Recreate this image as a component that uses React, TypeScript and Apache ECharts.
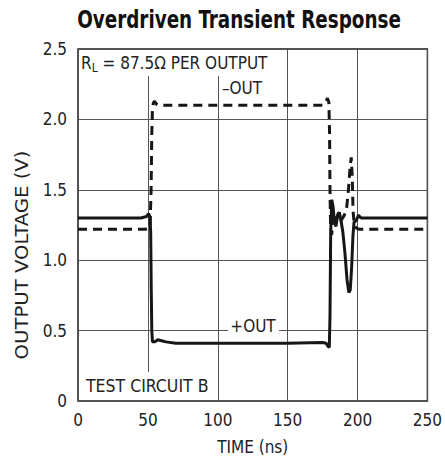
import React, { useEffect, useRef } from "react";
import * as echarts from "echarts";

const xTicks = [0, 50, 100, 150, 200, 250];
const yTicks = [0, 0.5, 1.0, 1.5, 2.0, 2.5];

// +OUT (solid): [time ns, volts]
const plusOut: [number, number][] = [
  [0, 1.3], [45, 1.3], [49, 1.31], [50.5, 1.33], [51.5, 1.31], [52, 1.2], [52.4, 0.8], [52.8, 0.5],
  [53.3, 0.42], [55, 0.42], [57, 0.435], [59, 0.43], [63, 0.42], [70, 0.41], [100, 0.41],
  [150, 0.41], [175, 0.415], [177.5, 0.41], [178.8, 0.39], [179.8, 0.38], [180.3, 0.6],
  [180.8, 1.2], [181.6, 1.43], [182.5, 1.38], [183.5, 1.27], [184.6, 1.24], [185.7, 1.32],
  [187, 1.34], [188.2, 1.28], [189.5, 1.2], [191, 1.05], [192.5, 0.86], [193.8, 0.77],
  [194.8, 0.79], [195.8, 0.95], [196.7, 1.17], [197.5, 1.27], [199, 1.28], [200.7, 1.32],
  [202.5, 1.3], [210, 1.3], [250, 1.3],
];

// -OUT (dashed): [time ns, volts]
const minusOut: [number, number][] = [
  [0, 1.22], [48, 1.22], [51.5, 1.23], [52.3, 1.5], [52.8, 1.9], [53.2, 2.05], [53.8, 2.11],
  [54.6, 2.13], [56, 2.11], [58, 2.1], [100, 2.1], [150, 2.1], [175, 2.1], [177, 2.12],
  [178.5, 2.15], [179.5, 2.12], [180, 1.9], [180.3, 1.5], [180.7, 1.25], [181.5, 1.18],
  [182.5, 1.28], [183.5, 1.31], [185, 1.28], [186.5, 1.34], [188, 1.28], [190, 1.31],
  [192, 1.35], [193.5, 1.5], [194.6, 1.65], [195.5, 1.73], [196.2, 1.6], [196.8, 1.35],
  [197.6, 1.26], [199, 1.23], [201, 1.22], [250, 1.22],
];

const FONT = "'DejaVu Sans Condensed', 'Liberation Sans', sans-serif";

export default function App() {
  const ref = useRef<HTMLDivElement>(null);
  useEffect(() => {
    if (!ref.current) return;
    const chart = echarts.init(ref.current, undefined, { renderer: "svg" });
    const txt = "#222";
    chart.setOption({
      animation: false,
      grid: {
        left: 78, right: 15, top: 49, bottom: 60,
        show: true, borderColor: "#1a1a1a", borderWidth: 1.5, backgroundColor: "#fff",
      },
      xAxis: {
        type: "value", min: xTicks[0], max: xTicks[xTicks.length - 1], interval: 50,
        name: "TIME (ns)", nameLocation: "middle", nameGap: 37,
        nameTextStyle: { fontFamily: FONT, fontSize: 17, color: txt },
        axisLine: { show: false }, axisTick: { show: false },
        axisLabel: { fontFamily: FONT, fontSize: 17, color: txt, margin: 10 },
        splitLine: { show: true, lineStyle: { color: "#555", width: 1 } },
      },
      yAxis: {
        type: "value", min: yTicks[0], max: yTicks[yTicks.length - 1], interval: 0.5,
        axisLine: { show: false }, axisTick: { show: false },
        axisLabel: {
          fontFamily: FONT, fontSize: 17, color: txt, margin: 11,
          formatter: (v: number) => (v === 0 ? "0" : v.toFixed(1)),
        },
        splitLine: { show: true, lineStyle: { color: "#555", width: 1 } },
      },
      graphic: [
        { type: "text", x: 239, y: 19, scaleX: 0.85, z: 10, style: { text: "Overdriven Transient Response", font: `bold 24px ${FONT}`, fill: "#111", align: "center", verticalAlign: "middle" } },
        { type: "text", x: 22, y: 255, rotation: Math.PI / 2, scaleX: 1.25, z: 10, style: { text: "OUTPUT VOLTAGE (V)", font: `17.5px ${FONT}`, fill: txt, align: "center", verticalAlign: "middle" } },
        { type: "rect", z: 1, shape: { x: 79, y: 50, width: 192, height: 26 }, style: { fill: "#fff" } },
        {
          type: "text", x: 81, y: 63, z: 10,
          style: {
            text: "{a|R}{s|L}{a| = 87.5Ω PER OUTPUT}",
            verticalAlign: "middle",
            rich: {
              a: { fontFamily: FONT, fontSize: 17, fill: txt, color: txt },
              s: { fontFamily: FONT, fontSize: 12, fill: txt, color: txt, verticalAlign: "bottom", padding: [9, 0, 0, 0] },
            },
          },
        },
        { type: "text", x: 242, y: 88, z: 10, style: { text: "–OUT", font: `17px ${FONT}`, fill: txt, align: "center", verticalAlign: "middle" } },
        { type: "rect", z: 1, shape: { x: 228, y: 319, width: 51, height: 16 }, style: { fill: "#fff" } },
        { type: "text", x: 253, y: 326, z: 10, style: { text: "+OUT", font: `17px ${FONT}`, fill: txt, align: "center", verticalAlign: "middle" } },
        { type: "rect", z: 1, shape: { x: 80, y: 372, width: 132, height: 28 }, style: { fill: "#fff" } },
        { type: "text", x: 86, y: 386, z: 10, style: { text: "TEST CIRCUIT B", font: `17.5px ${FONT}`, fill: txt, align: "left", verticalAlign: "middle" } },
      ],
      series: [
        {
          type: "line", name: "+OUT", data: plusOut, showSymbol: false, z: 5,
          lineStyle: { color: "#161616", width: 3 },
        },
        {
          type: "line", name: "-OUT", data: minusOut, showSymbol: false, z: 5,
          lineStyle: { color: "#161616", width: 3, type: [9, 6] },
        },
      ],
    });
    return () => chart.dispose();
  }, []);
  return <div ref={ref} style={{ width: 445, height: 461, position: "absolute", left: 0, top: 0 }} />;
}
